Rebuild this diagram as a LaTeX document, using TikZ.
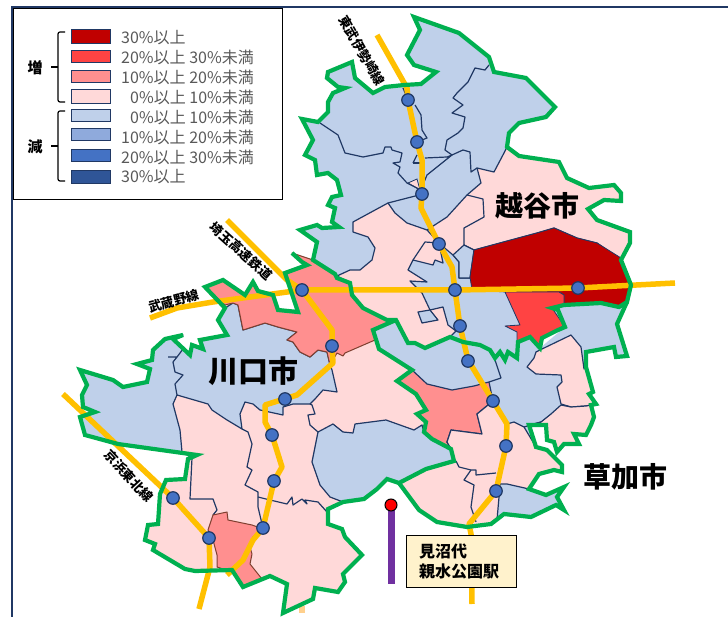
\documentclass[tikz,border=0pt]{standalone}
\usepackage{fontspec}
\setmainfont{Noto Sans CJK JP}
\definecolor{blu}{HTML}{BFD0EA}
\definecolor{pal}{HTML}{FFD9D9}
\definecolor{pnk}{HTML}{FF8F8F}
\definecolor{rd}{HTML}{FF4343}
\definecolor{drd}{HTML}{C00000}
\definecolor{nav}{HTML}{203864}
\definecolor{mid}{HTML}{8FAADC}
\definecolor{sta}{HTML}{4472C4}
\definecolor{dbl}{HTML}{2F5597}
\definecolor{grn}{HTML}{00B050}
\definecolor{yel}{HTML}{FFC000}
\definecolor{pur}{HTML}{7030A0}
\definecolor{bro}{HTML}{7F3F2F}
\definecolor{crm}{HTML}{FFF2CC}
\definecolor{gry}{HTML}{595959}
\tikzset{
 x=1pt,y=-1pt,
 bdr/.style={line width=1.2pt,draw=nav,line join=round},
 area/.style={bdr},
 city/.style={draw=grn,line width=4.2pt,line join=miter,miter limit=5},
 rail/.style={draw=yel,line width=5.5pt,line join=round},
 stn/.style={circle,draw=nav,fill=sta,line width=1.2pt,minimum size=12.5pt,inner sep=0pt},
 swatch/.style={draw=nav,line width=1.2pt,minimum width=39pt,inner sep=0pt,anchor=north west},
 legtext/.style={anchor=west,text=gry,font=\fontsize{16}{18}\selectfont,inner sep=0pt},
 linelbl/.style={font=\bfseries\fontsize{13}{15}\selectfont,inner sep=0pt},
 citylbl/.style={font=\bfseries\fontsize{28}{32}\selectfont,inner sep=0pt}
}
\begin{document}
\begin{tikzpicture}
\useasboundingbox (0,0) rectangle (728,617);
\fill[white] (0,0) rectangle (728,617);
% frame
\draw[nav,line width=1.6pt] (12,617) -- (12,7) -- (728,7);
% stub below the southern tip
\fill[yel!35!pal] (299,606) rectangle (305,613);
% --- base fills
\path[fill=blu] (328,72)--(352,62)--(355,78)--(373,93)--(385,87)--(404,85)--(421,84)--(436,72)--(414,65)--(407,55)--(420,30)--(414,17)--(459,33)--(489,57)--(494,72)--(526,78)--(555,107)--(546,117)--(519,123)--(509,133)--(507,147)--(519,156)--(559,162)--(567,178)--(589,188)--(614,185)--(621,193)--(621,201)--(604,200)--(588,209)--(597,220)--(630,232)--(630,243)--(621,260)--(631,285)--(627,302)--(619,307)--(601,303)--(564,305)--(552,308)--(558,310)--(565,327)--(558,330)--(542,338)--(540,348)--(530,337)--(518,342)--(517,358)--(508,352)--(505,360)--(500,352)--(495,358)--(490,350)--(480,345)--(463,342)--(450,337)--(425,348)--(415,343)--(408,343)--(396,320)--(387,320)--(363,308)--(352,295)--(350,283)--(337,278)--(335,274)--(313,260)--(317,242)--(300,230)--(317,225)--(322,228)--(339,227)--(332,222)--(335,208)--(328,205)--(332,197)--(341,195)--(337,180)--(328,173)--(317,175)--(315,160)--(305,155)--(313,140)--(302,119)--(318,122)--(328,112)--(328,102)--(333,93)--(345,88)--(338,87)--(327,78)--cycle;
% Soka base
\path[fill=blu] (396,320)--(373,330)--(379,349)--(412,370)--(397,381)--(416,394)--(426,410)--(417,414)--(426,422)--(424,432)--(432,439)--(451,449)--(454,461)--(426,469)--(399,483)--(419,510)--(437,522)--(467,527)--(491,524)--(504,514)--(531,517)--(556,505)--(564,510)--(557,497)--(564,487)--(546,495)--(529,489)--(539,474)--(554,470)--(562,472)--(562,465)--(547,450)--(536,447)--(529,425)--(546,425)--(547,440)--(554,442)--(557,452)--(564,444)--(579,444)--(574,434)--(586,435)--(591,425)--(594,417)--(591,405)--(596,404)--(589,394)--(593,392)--(586,367)--(586,352)--(614,347)--(616,357)--(627,356)--(617,324)--(627,302)--(619,307)--(601,303)--(552,308)--(565,327)--(540,348)--(530,337)--(490,350)--(450,337)--(425,348)--(408,343)--cycle;
% Kawaguchi base (pale)
\path[fill=pal] (292,253)--(302,262)--(307,265)--(285,273)--(298,312)--(278,310)--(273,295)--(258,291)--(253,282)--(245,295)--(223,280)--(205,287)--(225,308)--(218,320)--(227,335)--(200,340)--(203,349)--(192,345)--(190,355)--(173,339)--(183,335)--(165,339)--(153,350)--(152,360)--(137,364)--(150,369)--(147,382)--(123,387)--(113,380)--(80,370)--(87,385)--(82,395)--(83,407)--(95,412)--(80,417)--(85,435)--(118,444)--(197,455)--(188,459)--(185,479)--(166,480)--(160,494)--(158,524)--(148,525)--(145,540)--(155,544)--(153,550)--(185,569)--(195,571)--(232,570)--(243,587)--(270,576)--(287,584)--(283,613)--(313,599)--(315,588)--(338,592)--(345,582)--(343,574)--(362,555)--(345,537)--(342,529)--(328,524)--(328,509)--(343,502)--(364,499)--(377,489)--(387,479)--(399,483)--(426,469)--(454,461)--(451,449)--(432,439)--(424,432)--(426,422)--(417,414)--(426,410)--(416,394)--(397,381)--(412,370)--(379,349)--(373,330)--(396,320)--(387,320)--(363,308)--(352,295)--(350,283)--(337,278)--(335,274)--(313,260)--cycle;
% --- Kawaguchi blue
\path[fill=blu,area] (225,308)--(218,320)--(227,335)--(200,340)--(203,349)--(192,345)--(190,355)--(173,339)--(183,335)--(165,339)--(153,350)--(152,360)--(137,364)--(150,369)--(147,382)--(123,387)--(113,380)--(80,370)--(87,385)--(82,395)--(83,407)--(95,412)--(80,417)--(85,435)--(118,444)--(182,452)--(180,430)--(173,404)--(177,395)--(208,404)--(212,410)--(227,420)--(242,429)--(240,414)--(245,402)--(253,404)--(260,410)--(283,415)--(283,407)--(293,404)--(310,404)--(315,399)--(323,390)--(337,392)--(332,370)--(330,365)--(327,352)--(318,350)--(310,357)--(300,352)--(293,342)--(287,340)--(297,332)--(278,327)--(265,323)--(243,330)--(238,305)--(233,303)--cycle;
\path[fill=blu,area] (318,432)--(333,424)--(343,432)--(353,433)--(355,424)--(386,420)--(414,430)--(422,425)--(424,432)--(432,439)--(451,449)--(454,461)--(426,469)--(399,483)--(387,479)--(377,489)--(364,499)--(343,502)--(330,497)--(320,485)--(312,462)--cycle;
% Kawaguchi inner lines
\draw[bdr] (168,357)--(177,357)--(173,362)--(175,372)--(183,375)--(175,384)--(177,395);
\draw[bdr] (177,357)--(183,349);
\draw[bdr] (242,429)--(248,432)--(252,444)--(247,467)--(252,470)--(245,485)--(258,492)--(258,507)--(262,524);
\draw[bdr] (258,497)--(270,500)--(287,504)--(292,497)--(293,505)--(302,499)--(307,504)--(305,500)--(318,502)--(327,512);
\draw[bdr] (310,404)--(312,405)--(315,414)--(308,415)--(310,425)--(318,432);
\draw[bdr] (182,452)--(192,458)--(190,499)--(213,499)--(217,510)--(213,515);
% Kawaguchi pink top
\path[fill=pnk,draw=bro,line width=1pt,line join=round] (205,287)--(223,280)--(245,295)--(253,282)--(258,291)--(273,295)--(278,310)--(298,312)--(285,273)--(307,265)--(292,253)--(313,260)--(335,274)--(337,278)--(350,283)--(352,295)--(363,308)--(387,320)--(396,320)--(373,330)--(375,340)--(345,353)--(343,356)--(337,353)--(330,365)--(327,352)--(318,350)--(310,357)--(300,352)--(293,342)--(287,340)--(297,332)--(278,327)--(265,323)--(243,330)--(238,305)--(233,303)--(225,305)--cycle;
% Kawaguchi pink bottom
\path[fill=pnk,draw=bro,line width=1pt,line join=round] (208,530)--(213,515)--(227,512)--(228,520)--(252,525)--(263,529)--(253,537)--(250,547)--(252,554)--(250,564)--(262,579)--(243,587)--(232,572)--(217,567)--(217,555)--(213,540)--cycle;
% --- Koshigaya
\path[fill=pal,area] (507,147)--(519,156)--(559,162)--(567,178)--(589,188)--(614,185)--(621,193)--(621,201)--(604,200)--(588,209)--(597,220)--(630,232)--(630,243)--(621,260)--(597,243)--(577,238)--(554,228)--(537,233)--(511,240)--(474,250)--(470,278)--(459,278)--(459,262)--(453,255)--(447,250)--(439,243)--(427,230)--(447,217)--(467,195)--(481,183)--(477,168)--(494,172)--(504,153)--cycle;
\draw[bdr] (467,195)--(483,199)--(484,217)--(464,228)--(464,245)--(474,250);
\path[fill=blu,draw=nav,line width=1.2pt,line join=round] (464,245)--(453,255)--(459,262)--(459,278)--(470,278)--(474,250)--cycle;
\path[fill=drd,draw=nav,line width=.8pt,line join=round] (474,250)--(511,240)--(537,233)--(554,228)--(577,238)--(597,243)--(621,258)--(621,260)--(631,285)--(627,302)--(619,307)--(601,303)--(564,305)--(564,295)--(559,292)--(506,292)--(472,290)--(470,277)--cycle;
\path[fill=rd,draw=nav,line width=.8pt,line join=round] (505,292)--(559,292)--(564,295)--(564,305)--(552,308)--(565,327)--(542,338)--(540,348)--(530,337)--(517,342)--(517,332)--(505,326)--(520,325)--cycle;
% pale central
\path[fill=pal,area] (388,203)--(353,222)--(353,232)--(368,237)--(375,248)--(372,260)--(360,270)--(350,270)--(337,276)--(350,283)--(352,295)--(363,308)--(387,320)--(396,320)--(408,343)--(415,343)--(425,348)--(450,337)--(456,331)--(448,325)--(443,307)--(430,310)--(422,293)--(410,281)--(427,282)--(408,270)--(413,260)--(433,265)--(435,260)--(443,263)--(439,243)--(427,230)--(407,223)--(395,213)--cycle;
\draw[bdr] (413,260)--(425,242)--(439,243);
\path[fill=blu,area] (418,312)--(430,310)--(438,320)--(422,323)--cycle;
\path[fill=pal,draw=nav,line width=.8pt] (408,183)--(417,179)--(420,190)--cycle;
% Koshigaya inner
\draw[bdr] (320,123)--(338,135)--(345,153)--(363,157)--(383,153)--(385,147)--(391,147)--(392,150)--(402,153)--(400,162)--(393,163)--(400,167)--(398,173)--(407,183)--(417,188)--(423,194)--(388,203);
\draw[bdr] (403,88)--(408,100);
\draw[bdr] (415,105)--(421,115)--(422,130)--(427,138)--(417,142);
\draw[bdr] (413,163)--(417,155);\draw[bdr] (413,163)--(422,163);
\draw[bdr] (425,158)--(447,157)--(452,155)--(427,175)--(422,187);
\draw[bdr] (489,65)--(485,70)--(475,68)--(468,82)--(457,93)--(453,98)--(463,105)--(452,113)--(465,117)--(463,128)--(458,133)--(447,140)--(445,150)--(452,155);
\draw[bdr] (452,155)--(463,150)--(470,152)--(471,172)--(477,168);
% Soka pale & pink
\path[fill=pnk,draw=nav,line width=1.2pt,line join=round] (412,370)--(427,384)--(452,390)--(474,386)--(489,382)--(493,401)--(477,414)--(482,434)--(451,430)--(447,442)--(451,449)--(432,439)--(424,432)--(426,422)--(417,414)--(426,410)--(416,394)--(397,381)--cycle;
\draw[bdr] (489,382)--(501,378)--(494,357);
\path[fill=pal,area] (451,430)--(482,434)--(477,414)--(493,401)--(507,424)--(514,422)--(524,427)--(536,447)--(547,450)--(562,465)--(562,472)--(554,470)--(539,474)--(529,489)--(507,484)--(500,484)--(499,497)--(497,520)--(491,524)--(467,527)--(437,522)--(419,510)--(399,483)--(426,469)--(454,461)--(451,449)--(447,442)--cycle;
\draw[bdr] (456,461)--(459,467)--(471,470)--(476,470)--(476,475)--(496,473);
\draw[bdr] (471,470)--(464,480)--(474,485)--(471,507)--(476,522);
\path[fill=pal,area] (571,335)--(542,349)--(536,352)--(534,358)--(527,367)--(536,374)--(561,375)--(562,382)--(557,387)--(561,404)--(571,407)--(586,406)--(591,405)--(596,404)--(589,394)--(593,392)--(586,367)--(584,369)--(581,347)--cycle;
\path[fill=pal,area] (561,405)--(551,414)--(541,422)--(529,425)--(546,425)--(547,440)--(554,442)--(557,452)--(564,444)--(579,444)--(574,434)--(586,435)--(591,425)--(594,417)--(591,405)--(586,406)--(571,407)--cycle;
\draw[bdr] (541,422)--(524,427);
% rails
\draw[rail] (377,35)--(407,88)--(408,100)--(417,142)--(422,160)--(422,194)--(421,208)--(439,244)--(452,267)--(455,290)--(460,326)--(468,360)--(493,401)--(507,424)--(506,446)--(496,491)--(469,524)--(471,534)--(472,604);
\draw[rail] (150,318)--(177,308)--(213,302)--(302,290)--(455,290)--(578,288)--(675,283);
\draw[rail] (227,220)--(287,280)--(302,290)--(332,330)--(332,346)--(333,363)--(297,395)--(265,405)--(265,422)--(272,435)--(282,467)--(274,481)--(263,528)--(253,540)--(243,560)--(227,575);
\draw[rail] (63,394)--(173,498)--(209,538)--(210,567)--(199,609);
% green outlines
\draw[city] (328,72)--(352,62)--(355,78)--(373,93)--(385,87)--(404,85)--(421,84)--(436,72)--(414,65)--(407,55)--(420,30)--(414,17)--(459,33)--(489,57)--(494,72)--(526,78)--(555,107)--(546,117)--(519,123)--(509,133)--(507,147)--(519,156)--(559,162)--(567,178)--(589,188)--(614,185)--(621,193)--(621,201)--(604,200)--(588,209)--(597,220)--(630,232)--(630,243)--(621,260)--(631,285)--(627,302)--(619,307)--(601,303)--(564,305)--(552,308)--(558,310)--(565,327)--(558,330)--(542,338)--(540,348)--(530,337)--(518,342)--(517,358)--(508,352)--(505,360)--(500,352)--(495,358)--(490,350)--(480,345)--(463,342)--(450,337)--(425,348)--(415,343)--(408,343)--(396,320)--(387,320)--(363,308)--(352,295)--(350,283)--(337,278)--(335,274)--(313,260)--(317,242)--(300,230)--(317,225)--(322,228)--(339,227)--(332,222)--(335,208)--(328,205)--(332,197)--(341,195)--(337,180)--(328,173)--(317,175)--(315,160)--(305,155)--(313,140)--(302,119)--(318,122)--(328,112)--(328,102)--(333,93)--(345,88)--(338,87)--(327,78)--cycle;
\draw[city] (292,253)--(302,262)--(307,265)--(285,273)--(298,312)--(278,310)--(273,295)--(258,291)--(253,282)--(245,295)--(223,280)--(205,287)--(225,308)--(218,320)--(227,335)--(200,340)--(203,349)--(192,345)--(190,355)--(173,339)--(183,335)--(165,339)--(153,350)--(152,360)--(137,364)--(150,369)--(147,382)--(123,387)--(113,380)--(80,370)--(87,385)--(82,395)--(83,407)--(95,412)--(80,417)--(85,435)--(118,444)--(197,455)--(188,459)--(185,479)--(166,480)--(160,494)--(158,524)--(148,525)--(145,540)--(155,544)--(153,550)--(185,569)--(195,571)--(232,570)--(243,587)--(270,576)--(287,584)--(283,613)--(313,599)--(315,588)--(338,592)--(345,582)--(343,574)--(362,555)--(345,537)--(342,529)--(328,524)--(328,509)--(343,502)--(364,499)--(377,489)--(387,479)--(399,483)--(426,469)--(454,461)--(451,449)--(432,439)--(424,432)--(426,422)--(417,414)--(426,410)--(416,394)--(397,381)--(412,370)--(379,349)--(373,330)--(396,320);
\draw[city] (399,483)--(419,510)--(437,522)--(467,527)--(491,524)--(504,514)--(531,517)--(556,505)--(564,510)--(557,497)--(564,487)--(546,495)--(529,489)--(539,474)--(554,470)--(562,472)--(562,465)--(547,450)--(536,447)--(529,425)--(546,425)--(547,440)--(554,442)--(557,452)--(564,444)--(579,444)--(574,434)--(586,435)--(591,425)--(594,417)--(591,405)--(596,404)--(589,394)--(593,392)--(586,367)--(586,352)--(614,347)--(616,357)--(627,356)--(617,324)--(627,302);
% stations
\foreach \n/\p in {a/{408,100},b/{417,142},c/{422,194},d/{439,244},e/{455,290},f/{460,326},g/{468,361},h/{493,401},i/{506,446},j/{496,491},k/{578,288},l/{302,290},m/{332,346},n/{285,399},o/{272,435},p/{274,481},q/{263,528},r/{209,538},s/{173,498}}
  \node[stn] (st\n) at (\p) {};
% legend
\node[draw=black,line width=1.4pt,fill=white,minimum width=269pt,minimum height=191pt,inner sep=0pt,anchor=north west] (legend) at (13,8) {};
\foreach \y/\h/\c in {29/14/drd,50/12/rd,70/12/pnk,89/14/pal,109/12/blu,128/12/mid,149/12/sta,170/13/dbl}
  \node[swatch,fill=\c,minimum height=\h pt] at (71,\y) {};
\node[legtext] (t1) at (121,38) {30\%以上};
\node[legtext] (t2) at (121,57) {20\%以上 30\%未満};
\node[legtext] (t3) at (121,77) {10\%以上 20\%未満};
\node[legtext] (t4) at (130,97) {0\%以上 10\%未満};
\node[legtext] (t5) at (130,117) {0\%以上 10\%未満};
\node[legtext] (t6) at (121,137) {10\%以上 20\%未満};
\node[legtext] (t7) at (121,157) {20\%以上 30\%未満};
\node[legtext] (t8) at (121,177) {30\%以上};
\draw[black,line width=1.2pt,rounded corners=2pt] (65,32)--(58,32)--(58,102)--(65,102);
\draw[black,line width=1.2pt] (51,67)--(58,67);
\draw[black,line width=1.2pt,rounded corners=2pt] (65,111)--(58,111)--(58,181)--(65,181);
\draw[black,line width=1.2pt] (51,146)--(58,146);
\node[font=\bfseries\fontsize{15}{17}\selectfont,inner sep=0pt] (up) at (35,68) {増};
\node[font=\bfseries\fontsize{15}{17}\selectfont,inner sep=0pt] (down) at (35,147) {減};
% line labels
\node[linelbl,rotate=-60] (l1) at (362,51) {東武伊勢崎線};
\node[linelbl,rotate=-42] (l2) at (241,251) {埼玉高速鉄道};
\node[linelbl,rotate=15] (l3) at (174,301) {武蔵野線};
\node[linelbl,rotate=-47] (l4) at (129,476) {京浜東北線};
% city labels
\node[citylbl] (koshi) at (537,206) {越谷市};
\node[citylbl,font=\bfseries\fontsize{30}{34}\selectfont] (kawa) at (253,371) {川口市};
\node[citylbl] (soka) at (625,477) {草加市};
% station marker
\coordinate (ptop) at (391,505);
\coordinate (pbot) at (391,584);
\draw[pur,line width=7pt] (ptop)--(pbot);
\node[circle,draw=black,fill=red,line width=1pt,minimum size=12pt,inner sep=0pt] (pin) at (ptop) {};
\node[draw=black,fill=crm,line width=1.2pt,minimum width=110pt,minimum height=52pt,inner sep=0pt,anchor=north west] (box) at (406,535) {};
\node[anchor=west,inner sep=0pt,align=left,font=\bfseries\fontsize{16}{20}\selectfont] (boxt) at (419,561) {見沼代\\親水公園駅};
\end{tikzpicture}
\end{document}
